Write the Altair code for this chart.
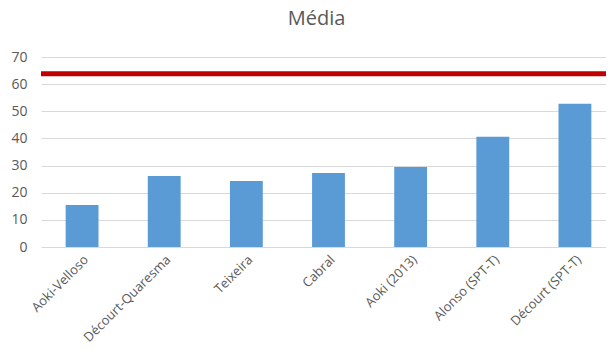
import altair as alt
import pandas as pd

categories = ["Aoki-Velloso", "Décourt-Quaresma", "Teixeira", "Cabral",
              "Aoki (2013)", "Alonso (SPT-T)", "Décourt (SPT-T)"]
values = [15.5, 26.2, 24.3, 27.3, 29.5, 40.6, 52.8]
reference_value = [63.8]
y_ticks = [0, 10, 20, 30, 40, 50, 60, 70]

df = pd.DataFrame({"cat": categories, "val": values})
ref = pd.DataFrame({"ref": reference_value})

FONT = "Open Sans"
GRAY = "#595959"

y_axis = alt.Axis(title=None, values=y_ticks, labelFont=FONT,
                  labelFontSize=14, labelColor=GRAY, ticks=False,
                  domain=False, gridColor="#D9D9D9", labelPadding=14)
y_scale = alt.Scale(domain=[0, 70])

bars = alt.Chart(df).mark_bar(color="#5B9BD5").encode(
    x=alt.X("cat:N", sort=categories,
            scale=alt.Scale(paddingInner=0.6, paddingOuter=0.3, range=[0, 575]),
            axis=alt.Axis(title=None, labelAngle=-45, labelFont=FONT,
                          labelFontSize=13, labelColor=GRAY, ticks=False,
                          domain=False, labelPadding=6, grid=False)),
    y=alt.Y("val:Q", scale=y_scale, axis=y_axis),
)

line = alt.Chart(ref).mark_rule(color="#C00000", strokeWidth=5).encode(
    y=alt.Y("ref:Q", scale=y_scale, axis=y_axis),
)

chart = alt.layer(bars, line).properties(
    width=565, height=190,
    background="white",
    title=alt.TitleParams("Média", font=FONT, fontSize=20, color=GRAY,
                          fontWeight="normal", anchor="middle", offset=21, dx=-7),
    autosize=alt.AutoSizeParams(type="none"),
    padding={"left": 33, "top": 49, "right": 0, "bottom": 100},
).configure_view(strokeWidth=0, strokeOpacity=0).configure_axis(domain=False)

chart.save("out.html", embed_options={"renderer": "svg", "actions": False})
